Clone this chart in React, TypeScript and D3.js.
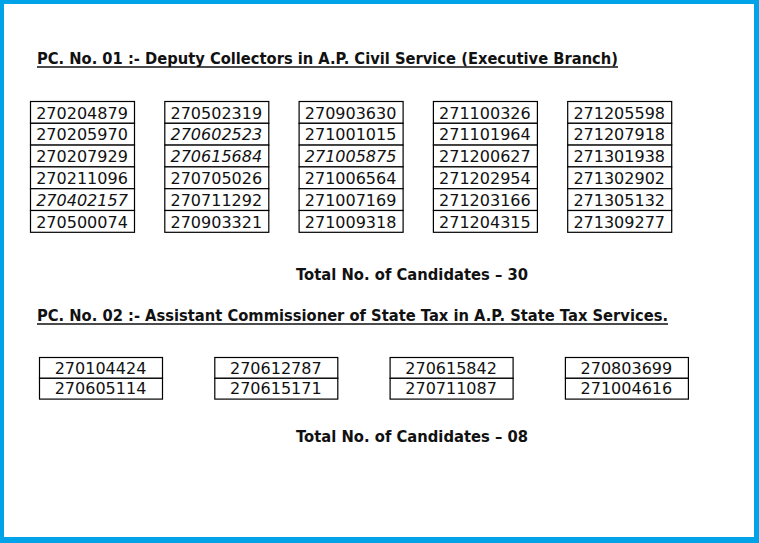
import { scaleLinear } from "d3";

const W = 759;
const H = 543;
const FONT = "'DejaVu Sans', Verdana, sans-serif";

const title1 = "PC. No. 01 :- Deputy Collectors in A.P. Civil Service (Executive Branch)";
const title2 = "PC. No. 02 :- Assistant Commissioner of State Tax in A.P. State Tax Services.";
const total1 = "Total No. of Candidates \u2013 30";
const total2 = "Total No. of Candidates \u2013 08";

// columns of hall ticket numbers, top to bottom
const pc1Columns = [
  ["270204879", "270205970", "270207929", "270211096", "270402157", "270500074"],
  ["270502319", "270602523", "270615684", "270705026", "270711292", "270903321"],
  ["270903630", "271001015", "271005875", "271006564", "271007169", "271009318"],
  ["271100326", "271101964", "271200627", "271202954", "271203166", "271204315"],
  ["271205598", "271207918", "271301938", "271302902", "271305132", "271309277"],
];
// numbers printed in italics
const italicNumbers = ["270402157", "270602523", "270615684", "271005875"];

const pc2Columns = [
  ["270104424", "270605114"],
  ["270612787", "270615171"],
  ["270615842", "270711087"],
  ["270803699", "271004616"],
];

function NumberGrid({ columns, x0, colStep, colWidth, y0, rowHeight, baseline }) {
  const x = scaleLinear().domain([0, 1]).range([x0, x0 + colStep]);
  const y = scaleLinear().domain([0, 1]).range([y0, y0 + rowHeight]);
  return (
    <g>
      {columns.map((col, ci) => (
        <g key={ci}>
          {col.map((num, ri) => (
            <g key={num}>
              <rect
                x={x(ci) + 0.5}
                y={y(ri) + 0.5}
                width={colWidth}
                height={rowHeight}
                fill="white"
                stroke="#000"
                strokeWidth={1.2}
              />
              <text
                x={x(ci) + colWidth / 2}
                y={y(ri) + baseline}
                textAnchor="middle"
                fontFamily={FONT}
                fontSize={16}
                fontStyle={italicNumbers.includes(num) ? "italic" : "normal"}
                fill="#111"
              >
                {num}
              </text>
            </g>
          ))}
        </g>
      ))}
    </g>
  );
}

function Heading({ text, x, y, width }) {
  return (
    <g>
      <text
        x={x}
        y={y}
        fontFamily={FONT}
        fontSize={15}
        fontWeight="bold"
        textLength={width}
        lengthAdjust="spacingAndGlyphs"
        fill="#111"
      >
        {text}
      </text>
      <line x1={x} x2={x + width} y1={y + 3} y2={y + 3} stroke="#111" strokeWidth={1.6} />
    </g>
  );
}

function Total({ text, y }) {
  return (
    <text
      x={296}
      y={y}
      fontFamily={FONT}
      fontSize={15}
      fontWeight="bold"
      textLength={232}
      lengthAdjust="spacingAndGlyphs"
      fill="#111"
    >
      {text}
    </text>
  );
}

export default function App() {
  return (
    <svg
      width={W}
      height={H}
      viewBox={`0 0 ${W} ${H}`}
      style={{ position: "absolute", left: 0, top: 0, background: "white" }}
    >
      <rect x={0} y={0} width={W} height={H} fill="white" />
      {/* blue frame */}
      <rect x={0} y={0} width={W} height={4} fill="#00a2e8" />
      <rect x={0} y={0} width={4} height={H} fill="#00a2e8" />
      <rect x={W - 5} y={0} width={5} height={H} fill="#00a2e8" />
      <rect x={0} y={H - 6} width={W} height={6} fill="#00a2e8" />

      <Heading text={title1} x={37} y={64} width={581} />
      <NumberGrid
        columns={pc1Columns}
        x0={30}
        colStep={134.3}
        colWidth={104}
        y0={101}
        rowHeight={21.8}
        baseline={17.5}
      />
      <Total text={total1} y={280} />

      <Heading text={title2} x={37} y={321} width={631} />
      <NumberGrid
        columns={pc2Columns}
        x0={39}
        colStep={175.3}
        colWidth={123}
        y0={357}
        rowHeight={20.8}
        baseline={16.5}
      />
      <Total text={total2} y={442} />
    </svg>
  );
}
